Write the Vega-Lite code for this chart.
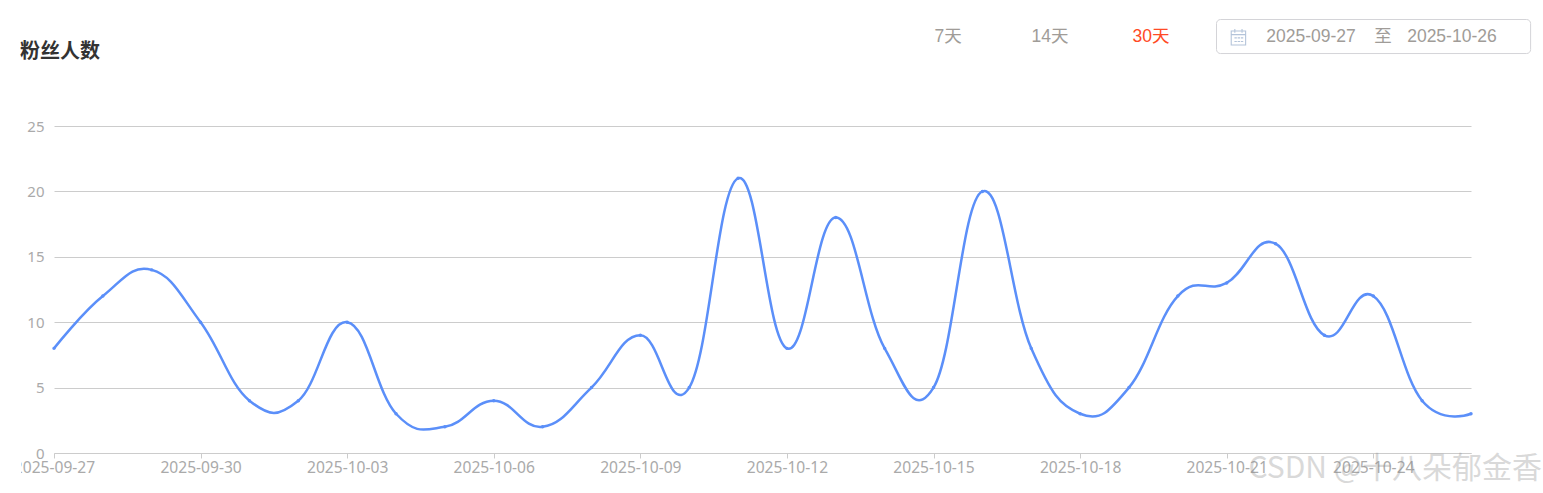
{"$schema":"https://vega.github.io/schema/vega-lite/v6.json","width":1417,"height":327,"autosize":{"type":"none"},"padding":{"left":54,"top":126,"right":72,"bottom":40},"background":"white",
"config":{"view":{"stroke":null}},
"datasets":{
"fans":[{"date":"2025-09-27","fans":8},{"date":"2025-09-28","fans":12},{"date":"2025-09-29","fans":14},{"date":"2025-09-30","fans":10},{"date":"2025-10-01","fans":4},{"date":"2025-10-02","fans":4},{"date":"2025-10-03","fans":10},{"date":"2025-10-04","fans":3},{"date":"2025-10-05","fans":2},{"date":"2025-10-06","fans":4},{"date":"2025-10-07","fans":2},{"date":"2025-10-08","fans":5},{"date":"2025-10-09","fans":9},{"date":"2025-10-10","fans":5},{"date":"2025-10-11","fans":21},{"date":"2025-10-12","fans":8},{"date":"2025-10-13","fans":18},{"date":"2025-10-14","fans":8},{"date":"2025-10-15","fans":5},{"date":"2025-10-16","fans":20},{"date":"2025-10-17","fans":8},{"date":"2025-10-18","fans":3},{"date":"2025-10-19","fans":5},{"date":"2025-10-20","fans":12},{"date":"2025-10-21","fans":13},{"date":"2025-10-22","fans":16},{"date":"2025-10-23","fans":9},{"date":"2025-10-24","fans":12},{"date":"2025-10-25","fans":4},{"date":"2025-10-26","fans":3}],
"header":[{"date":"2025-10-15T07:08:00Z","v":31.8,"label":"7天","state":"off"},{"date":"2025-10-17T09:14:00Z","v":31.8,"label":"14天","state":"off"},{"date":"2025-10-19T10:48:00Z","v":31.8,"label":"30天","state":"on"},{"date":"2025-10-22T17:27:00Z","v":31.8,"label":"2025-09-27","state":"off"},{"date":"2025-10-24T04:48:00Z","v":31.8,"label":"至","state":"off"},{"date":"2025-10-25T14:38:00Z","v":31.8,"label":"2025-10-26","state":"off"}]
},
"layer":[
{"data":{"values":[{"a":"2025-10-20T19:00:00Z","b":"2025-10-27T05:17:00Z","v1":33.14,"v2":30.54}]},"mark":{"type":"rect","fill":"white","stroke":"#d4d4d8","strokeWidth":1,"cornerRadius":4,"clip":false},"encoding":{"x":{"field":"a","type":"temporal","title":null,"scale":{"type":"utc"}},"x2":{"field":"b"},"y":{"field":"v1","type":"quantitative","title":null},"y2":{"field":"v2"}}},
{"data":{"values":[{"date":"2025-10-21T05:46:00Z","v":31.8}]},"mark":{"type":"point","shape":"M-0.9 -0.75H0.9V1H-0.9Z M-0.9 -0.3H0.9 M-0.45 -1V-0.55 M0.45 -1V-0.55 M-0.5 0.1H-0.2 M-0.1 0.1H0.2 M0.3 0.1H0.6 M-0.5 0.55H-0.2 M-0.1 0.55H0.2 M0.3 0.55H0.6","size":256,"stroke":"#b4c4da","strokeWidth":1.1,"filled":false,"opacity":1},"encoding":{"x":{"field":"date","type":"temporal","title":null},"y":{"field":"v","type":"quantitative","title":null}}},
{"data":{"values":[{"date":"2025-09-27T02:57:00Z","v":30.66,"label":"粉丝人数"}]},"mark":{"type":"text","font":"Noto Sans CJK SC","fontSize":20,"fontWeight":"bold","align":"center","baseline":"middle","color":"#333333"},"encoding":{"x":{"field":"date","type":"temporal","title":null},"y":{"field":"v","type":"quantitative","title":null},"text":{"field":"label"}}},
{"data":{"name":"header"},"mark":{"type":"text","font":"Liberation Sans, Noto Sans CJK SC","fontSize":17.5,"align":"center","baseline":"middle"},"encoding":{"x":{"field":"date","type":"temporal","title":null},"y":{"field":"v","type":"quantitative","title":null},"text":{"field":"label"},"color":{"field":"state","type":"nominal","legend":null,"scale":{"domain":["off","on"],"range":["#a09c98","#ff4a26"]}}}},
{"data":{"name":"fans"},"mark":{"type":"line","interpolate":"cardinal","tension":-0.25,"color":"#5b8ff9","strokeWidth":2.5},"encoding":{"x":{"field":"date","type":"temporal","title":null,"scale":{"type":"utc","domain":[{"year":2025,"month":9,"date":27,"utc":true},{"year":2025,"month":10,"date":26,"utc":true}]},"axis":{"values":[{"year":2025,"month":9,"date":27,"utc":true},{"year":2025,"month":9,"date":30,"utc":true},{"year":2025,"month":10,"date":3,"utc":true},{"year":2025,"month":10,"date":6,"utc":true},{"year":2025,"month":10,"date":9,"utc":true},{"year":2025,"month":10,"date":12,"utc":true},{"year":2025,"month":10,"date":15,"utc":true},{"year":2025,"month":10,"date":18,"utc":true},{"year":2025,"month":10,"date":21,"utc":true},{"year":2025,"month":10,"date":24,"utc":true}],"labelExpr":"utcFormat(datum.value, '%Y-%m-%d')","labelFont":"Noto Sans","labelFontSize":15.6,"labelColor":"#aaaaaa","labelPadding":2,"labelFlush":false,"labelOverlap":false,"labelBound":false,"grid":false,"domainColor":"#cccccc","tickColor":"#cccccc","tickSize":5,"title":null}},"y":{"field":"fans","type":"quantitative","title":null,"scale":{"domain":[0,25],"nice":false},"axis":{"values":[0,5,10,15,20,25],"labelFont":"Noto Sans","labelFontSize":15,"labelColor":"#aaaaaa","labelPadding":10,"domain":false,"ticks":false,"grid":true,"gridColor":"#cccccc","gridWidth":1,"title":null}}}},
{"data":{"name":"fans"},"mark":{"type":"point","filled":true,"size":12,"color":"#5b8ff9","opacity":1},"encoding":{"x":{"field":"date","type":"temporal","title":null},"y":{"field":"fans","type":"quantitative","title":null}}},
{"data":{"values":[{"a":"2025-09-25T21:29:00Z","b":"2025-09-26T07:48:00Z","v1":-0.46,"v2":-1.9}]},"mark":{"type":"rect","fill":"white","clip":false},"encoding":{"x":{"field":"a","type":"temporal","title":null},"x2":{"field":"b"},"y":{"field":"v1","type":"quantitative","title":null},"y2":{"field":"v2"}}},
{"data":{"values":[{"date":"2025-10-24T10:48:00Z","v":-1.2,"label":"CSDN @十八朵郁金香"}]},"mark":{"type":"text","font":"Noto Sans CJK SC","fontSize":30,"align":"center","baseline":"middle","color":"#8a8a8a","opacity":0.32},"encoding":{"x":{"field":"date","type":"temporal","title":null},"y":{"field":"v","type":"quantitative","title":null},"text":{"field":"label"}}}
]}
